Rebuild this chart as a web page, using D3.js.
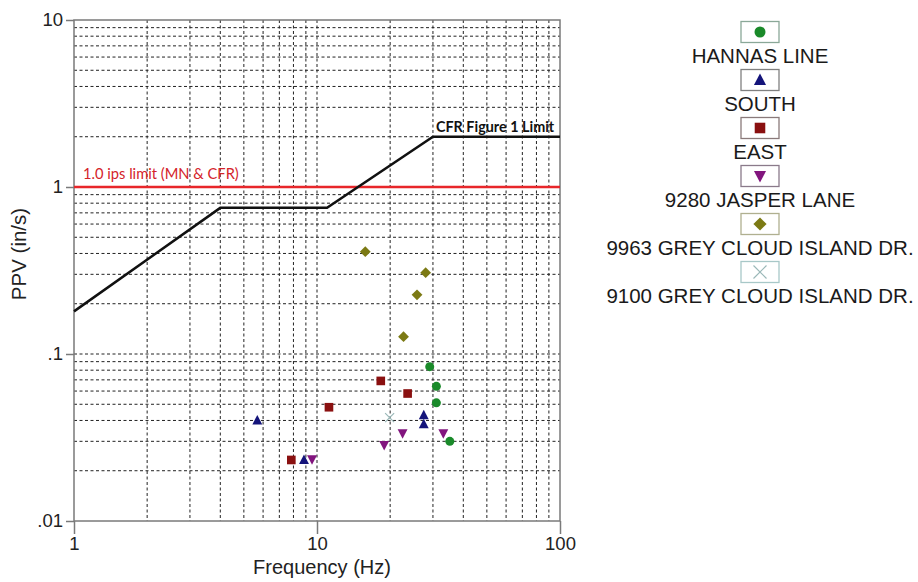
<!DOCTYPE html>
<html><head><meta charset="utf-8">
<script src="https://cdn.jsdelivr.net/npm/d3@7/dist/d3.min.js"></script>
<style>body{margin:0;background:#fff}svg{display:block}</style>
</head><body>
<svg id="c" width="918" height="582"></svg>
<script>
// ---- data ----
const xTickValues = [1, 10, 100];
const xTickLabels = ["1", "10", "100"];
const yTickValues = [10, 1, 0.1, 0.01];
const yTickLabels = ["10", "1", ".1", ".01"];

const seriesNames = ["HANNAS LINE", "SOUTH", "EAST", "9280 JASPER LANE", "9963 GREY CLOUD ISLAND DR.", "9100 GREY CLOUD ISLAND DR."];
const hannasLine = [[29.1, 0.084], [31.0, 0.064], [31.0, 0.051], [35.2, 0.030]];
const south = [[5.68, 0.040], [27.5, 0.043], [27.5, 0.038], [8.84, 0.0232]];
const east = [[18.3, 0.069], [23.6, 0.058], [11.2, 0.048], [7.84, 0.0232]];
const jasperLane = [[9.54, 0.0234], [18.9, 0.0285], [22.5, 0.0335], [33.1, 0.0335]];
const grey9963 = [[15.8, 0.41], [28.0, 0.307], [25.8, 0.226], [22.7, 0.127]];
const grey9100 = [[19.9, 0.0416]];

const cfrLimitFreq = [1, 4, 11, 30, 100];
const cfrLimitPPV = [0.18, 0.75, 0.75, 2.0, 2.0];
const ipsLimit = 1.0;

// ---- styles ----
const seriesData = [hannasLine, south, east, jasperLane, grey9963, grey9100];
const colors = ["#1a8a2a", "#14147a", "#8a1010", "#82157e", "#7c7a14", "#9ab8b8"];
const boxBorders = ["#8aa898", "#808080", "#8a7a7a", "#8a7a8a", "#b0b090", "#a8c8c8"];
const shapes = ["circle", "up", "square", "down", "diamond", "x"];

const svg = d3.select("#c");
const x = d3.scaleLog().domain([1, 100]).range([74, 560]);
const y = d3.scaleLog().domain([0.01, 10]).range([521, 20]);

// grid
const gridVals = [];
for (let d = 0.01; d < 10; d *= 10) for (let k = 1; k <= 9; k++) gridVals.push(+(d * k).toPrecision(3));
const gridX = [];
for (let d = 1; d < 100; d *= 10) for (let k = 1; k <= 9; k++) if (!(d === 1 && k === 1)) gridX.push(d * k);
const g = svg.append("g");
g.selectAll("line.gx").data(gridX).enter().append("line")
  .attr("x1", d => x(d)).attr("x2", d => x(d)).attr("y1", y(10)).attr("y2", y(0.01))
  .attr("stroke", "#222").attr("stroke-width", 1).attr("stroke-dasharray", "3,2.5");
g.selectAll("line.gy").data(gridVals.filter(v => v > 0.01 && v < 10)).enter().append("line")
  .attr("x1", x(1)).attr("x2", x(100)).attr("y1", d => y(d)).attr("y2", d => y(d))
  .attr("stroke", "#222").attr("stroke-width", 1).attr("stroke-dasharray", "3,2.5");

// frame
svg.append("rect").attr("x", x(1)).attr("y", y(10)).attr("width", x(100) - x(1)).attr("height", y(0.01) - y(10))
  .attr("fill", "none").attr("stroke", "#7a7a7a").attr("stroke-width", 1.5);

// axes
const font = "'Liberation Sans', Arial, sans-serif";
const calib = "Lato, 'Open Sans', sans-serif";
const yAxis = d3.axisLeft(y).tickValues(yTickValues).tickFormat((d, i) => yTickLabels[i]).tickSize(8).tickPadding(3);
const ya = svg.append("g").attr("transform", `translate(${x(1)},0)`).call(yAxis);
const xAxis = d3.axisBottom(x).tickValues(xTickValues).tickFormat((d, i) => xTickLabels[i]).tickSize(13).tickPadding(3);
const xa = svg.append("g").attr("transform", `translate(0,${y(0.01)})`).call(xAxis);
[ya, xa].forEach(a => {
  a.attr("font-family", null).attr("font-size", null);
  a.select(".domain").remove();
  a.selectAll("line").attr("stroke", "#7a7a7a").attr("stroke-width", 1.5);
  a.selectAll("text").style("font-family", font).style("font-size", "18.5px").attr("fill", "#222");
});

svg.append("text").attr("x", 322).attr("y", 574).attr("text-anchor", "middle")
  .style("font-family", font).style("font-size", "20px").attr("fill", "#222").text("Frequency (Hz)");
svg.append("text").attr("transform", `translate(26,254) rotate(-90)`).attr("text-anchor", "middle")
  .style("font-family", font).style("font-size", "20.5px").attr("fill", "#222").text("PPV (in/s)");

// red limit
svg.append("line").attr("x1", x(1)).attr("x2", x(100)).attr("y1", y(ipsLimit)).attr("y2", y(ipsLimit))
  .attr("stroke", "#e8262a").attr("stroke-width", 2.5);
svg.append("text").attr("x", x(1) + 9).attr("y", y(ipsLimit) - 8.5)
  .style("font-family", calib).style("font-size", "14.7px").attr("fill", "#d4232a").text("1.0 ips limit (MN & CFR)");

// CFR line
const cfr = cfrLimitFreq.map((f, i) => [f, cfrLimitPPV[i]]);
svg.append("path").attr("d", d3.line().x(d => x(d[0])).y(d => y(d[1]))(cfr))
  .attr("fill", "none").attr("stroke", "#111").attr("stroke-width", 2.5);
svg.append("text").attr("x", x(30) + 3).attr("y", y(2.0) - 5)
  .style("font-family", calib).style("font-weight", "bold").style("font-size", "14.4px").attr("fill", "#111").text("CFR Figure 1 Limit");

// markers
function drawMarker(sel, shape, color, s) {
  if (shape === "circle") sel.append("circle").attr("r", s * 0.5).attr("fill", color);
  else if (shape === "square") sel.append("rect").attr("x", -s * 0.48).attr("y", -s * 0.48).attr("width", s * 0.96).attr("height", s * 0.96).attr("fill", color);
  else if (shape === "up") sel.append("path").attr("d", `M0,${-s * 0.6}L${s * 0.55},${s * 0.45}L${-s * 0.55},${s * 0.45}Z`).attr("fill", color);
  else if (shape === "down") sel.append("path").attr("d", `M0,${s * 0.6}L${s * 0.55},${-s * 0.45}L${-s * 0.55},${-s * 0.45}Z`).attr("fill", color);
  else if (shape === "diamond") sel.append("path").attr("d", `M0,${-s * 0.6}L${s * 0.6},0L0,${s * 0.6}L${-s * 0.6},0Z`).attr("fill", color);
  else if (shape === "x") sel.append("path").attr("d", `M${-s * 0.5},${-s * 0.5}L${s * 0.5},${s * 0.5}M${s * 0.5},${-s * 0.5}L${-s * 0.5},${s * 0.5}`).attr("stroke", color).attr("stroke-width", 1.2).attr("fill", "none");
}
seriesData.forEach((data, si) => {
  svg.append("g").selectAll("g").data(data).enter().append("g")
    .attr("transform", d => `translate(${x(d[0])},${y(d[1])})`)
    .each(function () { drawMarker(d3.select(this), shapes[si], colors[si], 9); });
});

// legend
const lg = svg.append("g");
seriesNames.forEach((name, i) => {
  const cy = 32 + 48 * i;
  lg.append("rect").attr("x", 741).attr("y", cy - 10.5).attr("width", 38).attr("height", 21)
    .attr("fill", "#fff").attr("stroke", boxBorders[i]).attr("stroke-width", 1.3);
  const m = lg.append("g").attr("transform", `translate(760,${cy})`);
  drawMarker(m, shapes[i], colors[i], i === 5 ? 13 : 11);
  lg.append("text").attr("x", 760).attr("y", cy + 30.5).attr("text-anchor", "middle")
    .style("font-family", font).style("font-size", "20.5px").attr("fill", "#1a1a1a").text(name);
});
</script>
</body></html>
